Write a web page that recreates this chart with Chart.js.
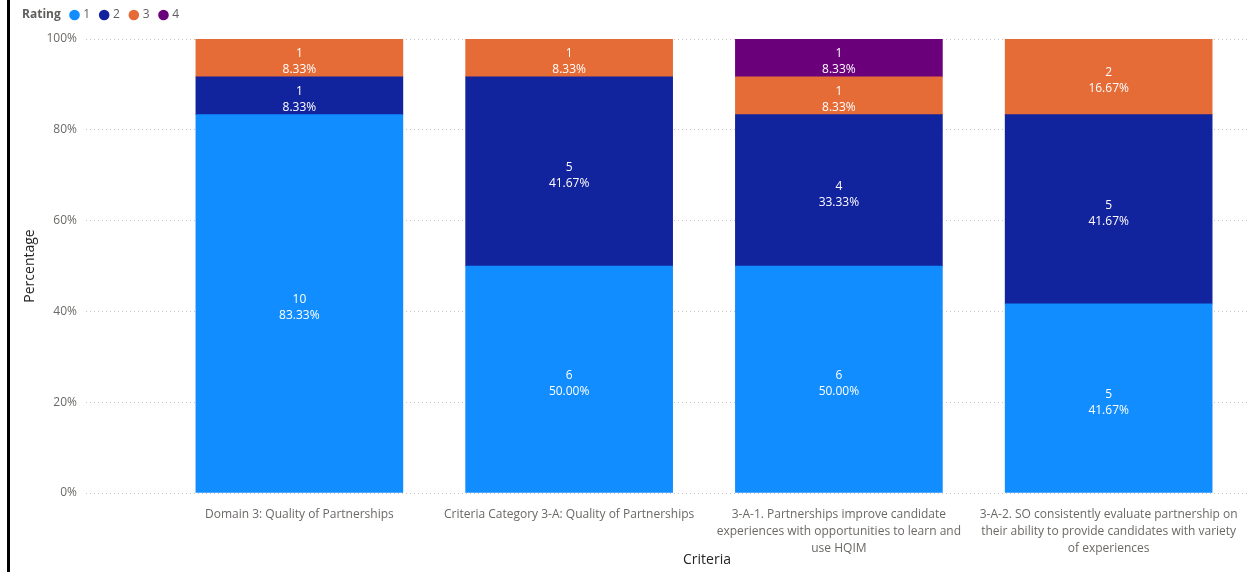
<!DOCTYPE html>
<html><head><meta charset="utf-8">
<script src="https://cdn.jsdelivr.net/npm/chart.js@4.4.1/dist/chart.umd.min.js"></script>
<style>
html,body{margin:0;padding:0;background:#fff;}
#wrap{position:relative;width:1253px;height:572px;overflow:hidden;}
#edge{position:absolute;left:7px;top:0;width:3px;height:572px;background:#000;}
canvas{position:absolute;left:0;top:0;}
</style></head><body>
<div id="wrap"><canvas id="c" width="1253" height="572"></canvas><div id="edge"></div></div>
<script>
// ---- data ----
const categories = [
  "Domain 3: Quality of Partnerships",
  "Criteria Category 3-A: Quality of Partnerships",
  "3-A-1. Partnerships improve candidate experiences with opportunities to learn and use HQIM",
  "3-A-2. SO consistently evaluate partnership on their ability to provide candidates with variety of experiences"
];
const categoryTickLines = [
  ["Domain 3: Quality of Partnerships"],
  ["Criteria Category 3-A: Quality of Partnerships"],
  ["3-A-1. Partnerships improve candidate", "experiences with opportunities to learn and", "use HQIM"],
  ["3-A-2. SO consistently evaluate partnership on", "their ability to provide candidates with variety", "of experiences"]
];
const ratings = ["1", "2", "3", "4"];
const countsRating1 = [10, 6, 6, 5];
const countsRating2 = [1, 5, 4, 5];
const countsRating3 = [1, 1, 1, 2];
const countsRating4 = [0, 0, 1, 0];
const yTickValues = [0, 20, 40, 60, 80, 100];
const legendTitle = "Rating";
const xAxisTitle = "Criteria";
const yAxisTitle = "Percentage";

// ---- styles ----
const FONT = "'Segoe UI', 'Open Sans', sans-serif";
const seriesColors = ["#118DFF", "#12239E", "#E66C37", "#6B007B"];

const allCounts = [countsRating1, countsRating2, countsRating3, countsRating4];
const totals = categories.map((_, i) => allCounts.reduce((s, arr) => s + arr[i], 0));

const datasets = ratings.map((r, k) => ({
  label: r,
  backgroundColor: seriesColors[k],
  borderWidth: 0,
  barThickness: 207,
  counts: allCounts[k],
  data: categories.map((_, i) => ({ x: i, y: allCounts[k][i] / totals[i] * 100 }))
}));

const labelPlugin = {
  id: 'segLabels',
  afterDatasetsDraw(chart) {
    const ctx = chart.ctx;
    ctx.save();
    ctx.font = '12px ' + FONT;
    ctx.fillStyle = '#ffffff';
    ctx.textAlign = 'center';
    ctx.textBaseline = 'middle';
    chart.data.datasets.forEach((ds, di) => {
      const meta = chart.getDatasetMeta(di);
      meta.data.forEach((bar, i) => {
        const c = ds.counts[i];
        if (!c) return;
        const cy = (bar.y + bar.base) / 2;
        ctx.fillText(String(c), bar.x, cy - 4);
        ctx.fillText(ds.data[i].y.toFixed(2) + '%', bar.x, cy + 12);
      });
    });
    ctx.restore();
  }
};

const legendPlugin = {
  id: 'ratingLegend',
  afterDraw(chart) {
    const ctx = chart.ctx;
    const y = 15;
    ctx.save();
    ctx.textBaseline = 'middle';
    ctx.textAlign = 'left';
    ctx.font = 'bold 12px ' + FONT;
    ctx.fillStyle = '#605E5C';
    ctx.fillText(legendTitle, 22, y);
    let x = 22 + ctx.measureText(legendTitle).width + 8.5;
    ctx.font = '12px ' + FONT;
    chart.data.datasets.forEach(ds => {
      ctx.fillStyle = ds.backgroundColor;
      ctx.beginPath();
      ctx.arc(x + 5.3, y, 5.3, 0, Math.PI * 2);
      ctx.fill();
      x += 10.6 + 3.5;
      ctx.fillStyle = '#605E5C';
      ctx.fillText(ds.label, x, y);
      x += ctx.measureText(ds.label).width + 8.7;
    });
    ctx.restore();
  }
};

const xTitlePlugin = {
  id: 'xTitle',
  afterDraw(chart) {
    const ctx = chart.ctx;
    const xs = chart.scales.x;
    ctx.save();
    ctx.font = '14px ' + FONT;
    ctx.fillStyle = '#252423';
    ctx.textAlign = 'center';
    ctx.textBaseline = 'middle';
    ctx.fillText(xAxisTitle, xs.getPixelForValue((categories.length - 1) / 2) + 3, 560);
    ctx.restore();
  }
};

new Chart(document.getElementById('c'), {
  type: 'bar',
  data: { datasets },
  plugins: [labelPlugin, legendPlugin, xTitlePlugin],
  options: {
    responsive: false,
    animation: false,
    events: [],
    layout: { padding: { left: 10, right: 3, top: 39, bottom: 0 } },
    plugins: { legend: { display: false }, tooltip: { enabled: false } },
    scales: {
      x: {
        type: 'linear',
        min: -0.791,
        max: 3.524,
        offset: false,
        stacked: true,
        grid: { display: false, offset: false },
        border: { display: false },
        afterBuildTicks: s => { s.ticks = categories.map((_, i) => ({ value: i })); },
        afterFit: s => { s.height = 79; },
        ticks: {
          autoSkip: false, maxRotation: 0, minRotation: 0, padding: 5,
          color: '#6b6966',
          font: { family: FONT, size: 12, lineHeight: 1.42 },
          callback: v => categoryTickLines[v]
        }
      },
      y: {
        min: 0, max: 100,
        stacked: true,
        border: { display: false, dash: [1, 3] },
        grid: { color: '#c8c6c4', drawTicks: false, lineWidth: 1 },
        afterBuildTicks: s => { s.ticks = yTickValues.map(v => ({ value: v })); },
        afterFit: s => { s.width = 76; },
        ticks: {
          padding: 9,
          color: '#6b6966',
          font: { family: FONT, size: 12 },
          callback: v => v + '%'
        },
        title: {
          display: true, text: yAxisTitle, color: '#252423',
          font: { family: FONT, size: 14 },
          padding: { top: 12, bottom: 0 }
        }
      }
    }
  }
});
</script>
</body></html>
